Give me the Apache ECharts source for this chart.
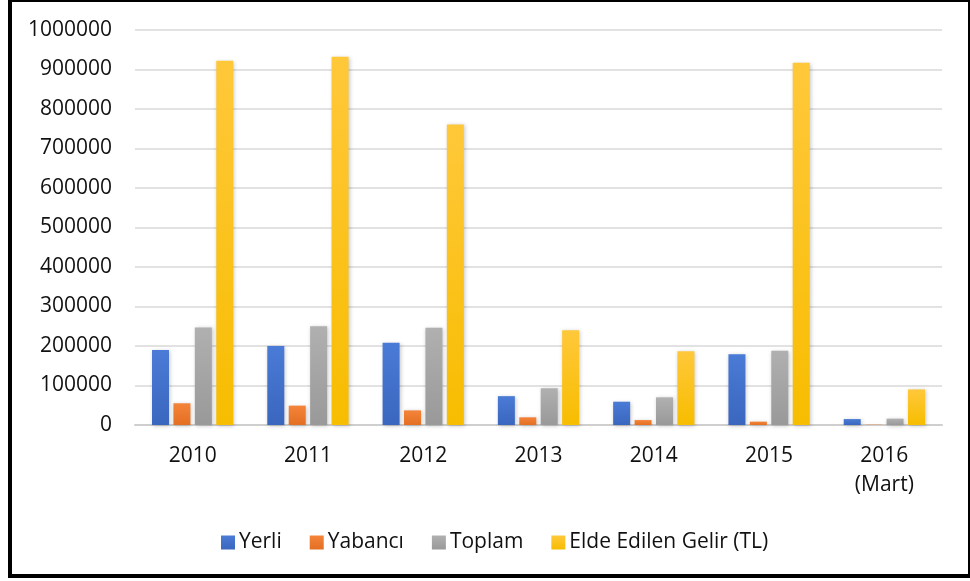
<!DOCTYPE html>
<html>
<head>
<meta charset="utf-8">
<style>
  html, body { margin: 0; padding: 0; background: #fff; }
  #chart { width: 970px; height: 581px; }
</style>
<script src="https://cdn.jsdelivr.net/npm/echarts@6/dist/echarts.min.js"></script>
</head>
<body>
<div id="chart"></div>
<script>
// Yıllara göre ziyaretçi sayıları ve elde edilen gelir
const years = ['2010', '2011', '2012', '2013', '2014', '2015', '2016\n(Mart)'];
const yerli = [190000, 200000, 208000, 73000, 59000, 179000, 15000];
const yabanci = [55000, 49000, 37000, 19500, 12500, 8500, 800];
const toplam = [247000, 250000, 246000, 93000, 70000, 188000, 16000];
const gelir = [922000, 932000, 761000, 240000, 187000, 917000, 90000];
const seriesNames = ['Yerli', 'Yabancı', 'Toplam', 'Elde Edilen Gelir (TL)'];
const yTicks = { min: 0, max: 1000000, step: 100000 };

const FONT = '"Open Sans", "Liberation Sans", sans-serif';
const palette = [
  ['#4a7bd6', '#3a66be'],
  ['#f4843a', '#e36f22'],
  ['#b0b0b0', '#999999'],
  ['#ffc83a', '#f7bd00']
];

function grad(pair) {
  return new echarts.graphic.LinearGradient(0, 0, 0, 1, [
    { offset: 0, color: pair[0] },
    { offset: 1, color: pair[1] }
  ]);
}

const seriesData = [yerli, yabanci, toplam, gelir];

const chart = echarts.init(document.getElementById('chart'), null, { renderer: 'canvas' });

chart.setOption({
  animation: false,
  backgroundColor: '#ffffff',
  textStyle: { fontFamily: FONT },
  grid: { left: 135, right: 28, top: 30, bottom: 156, containLabel: false },
  legend: {
    left: 216,
    top: 527,
    itemWidth: 14,
    itemHeight: 14,
    itemGap: 28,
    icon: 'rect',
    textStyle: { fontFamily: FONT, fontSize: 21, color: '#111', padding: [0, 0, 0, -1] },
    data: seriesNames
  },
  xAxis: {
    type: 'category',
    data: years,
    axisLine: { show: true, lineStyle: { color: '#cfcfcf', width: 2 } },
    axisTick: { show: false },
    axisLabel: {
      fontFamily: FONT,
      fontSize: 21,
      color: '#111',
      margin: 17,
      lineHeight: 29,
      interval: 0
    }
  },
  yAxis: {
    type: 'value',
    min: yTicks.min,
    max: yTicks.max,
    interval: yTicks.step,
    axisLine: { show: false },
    axisTick: { show: false },
    splitLine: { lineStyle: { color: '#d9d9d9', width: 1.5 } },
    axisLabel: {
      fontFamily: FONT,
      fontSize: 21,
      color: '#111',
      margin: 23,
      formatter: v => String(v)
    }
  },
  series: seriesNames.map((name, i) => ({
    name,
    type: 'bar',
    data: seriesData[i],
    barWidth: 17,
    barGap: '26%',
    itemStyle: {
      color: grad(palette[i]),
      shadowBlur: 4,
      shadowColor: 'rgba(0,0,0,0.22)',
      shadowOffsetX: 1,
      shadowOffsetY: 1
    }
  })),
  graphic: [{
    type: 'rect',
    z: 100,
    silent: true,
    shape: { x: 10, y: 0, width: 960, height: 576 },
    style: { fill: 'none', stroke: '#000', lineWidth: 4 }
  }]
});
</script>
</body>
</html>
